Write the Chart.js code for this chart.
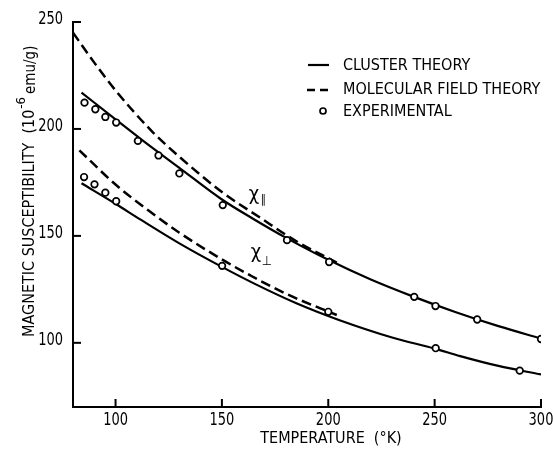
<!DOCTYPE html>
<html>
<head>
<meta charset="utf-8">
<script src="https://cdn.jsdelivr.net/npm/chart.js@4.4.0/dist/chart.umd.min.js"></script>
<style>
html, body { margin: 0; padding: 0; background: #fff; }
#wrap { width: 553px; height: 452px; }
</style>
</head>
<body>
<div id="wrap"><canvas id="chartCanvas" width="553" height="452"></canvas></div>
<script>
// cluster theory, parallel
const clusterParT = [84, 100, 111.6, 130, 150, 165, 180, 200, 220, 240, 260, 280, 300];
const clusterParChi = [217, 204.5, 195.5, 181.8, 167, 157.8, 149.2, 138.8, 129.6, 121.6, 114.3, 107.8, 102];

// molecular field theory, parallel
const mftParT = [80, 90, 100, 117, 130, 150, 168, 185, 204];
const mftParChi = [245, 231, 218, 199, 187, 170.5, 158.5, 147.5, 137.5];

// cluster theory, perpendicular
const clusterPerpT = [84, 100, 111.6, 130, 150, 165, 185, 205, 230, 250, 262, 280, 300];
const clusterPerpChi = [174.6, 165, 157.7, 146.5, 135.5, 127.8, 118.5, 110.7, 102.5, 97.3, 93.8, 89.2, 85.2];

// molecular field theory, perpendicular
const mftPerpT = [83, 100, 116, 130, 150, 163.4, 180, 204];
const mftPerpChi = [190, 174, 161.5, 151.5, 139, 131.5, 123, 113];

// experimental points
const expParT = [85.4, 90.5, 95.2, 100.3, 110.5, 120.2, 130, 150.4, 180.6, 200.4, 240.4, 250.4, 270, 300];
const expParChi = [212.3, 209.2, 205.6, 203, 194.4, 187.6, 179.2, 164.4, 148, 137.8, 121.5, 117.2, 110.9, 101.8];
const expPerpT = [85.2, 90.1, 95.2, 100.3, 150.1, 200, 250.5, 290];
const expPerpChi = [177.5, 174.1, 170.2, 166.2, 136, 114.5, 97.5, 87];

const xTicks = [100, 150, 200, 250, 300];
const yTicks = [100, 150, 200, 250];

const legendLabels = ["CLUSTER THEORY", "MOLECULAR FIELD THEORY", "EXPERIMENTAL"];

const FONT = "'Liberation Sans Narrow', 'DejaVu Sans Condensed', 'Liberation Sans', sans-serif";

function pts(xs, ys) {
    return xs.map((x, i) => ({ x: x, y: ys[i] }));
}

function lineSet(xs, ys, dashed) {
    return {
        type: "line",
        data: pts(xs, ys),
        borderColor: "#000",
        borderWidth: dashed ? 2.5 : 2.2,
        borderDash: dashed ? [10, 5] : [],
        pointRadius: 0,
        fill: false,
        cubicInterpolationMode: "monotone",
        order: 2
    };
}

function pointSet(xs, ys) {
    return {
        type: "scatter",
        data: pts(xs, ys),
        showLine: false,
        pointStyle: "circle",
        pointRadius: 3.3,
        pointBorderWidth: 1.7,
        pointBorderColor: "#000",
        pointBackgroundColor: "#fff",
        order: 1
    };
}

// condensed text: squeeze horizontally around (x, y)
function narrowText(ctx, text, x, y, sx) {
    ctx.save();
    ctx.translate(x, y);
    ctx.scale(sx, 1);
    ctx.fillText(text, 0, 0);
    ctx.restore();
}

const extras = {
    id: "extras",
    afterDraw(chart) {
        const ctx = chart.ctx;
        const xs = chart.scales.x;
        const ys = chart.scales.y;
        const area = chart.chartArea;

        ctx.save();
        ctx.strokeStyle = "#000";
        ctx.fillStyle = "#000";
        ctx.lineWidth = 2;

        // inward ticks
        xTicks.forEach(v => {
            const px = xs.getPixelForValue(v);
            ctx.beginPath();
            ctx.moveTo(px, area.bottom);
            ctx.lineTo(px, area.bottom - 8);
            ctx.stroke();
        });
        yTicks.forEach(v => {
            const py = ys.getPixelForValue(v);
            ctx.beginPath();
            ctx.moveTo(area.left, py);
            ctx.lineTo(area.left + 8, py);
            ctx.stroke();
        });

        // tick labels
        ctx.font = "17px " + FONT;
        ctx.textAlign = "center";
        ctx.textBaseline = "middle";
        xTicks.forEach(v => {
            narrowText(ctx, String(v), xs.getPixelForValue(v), 421, 0.85);
        });
        ctx.textAlign = "right";
        yTicks.forEach(v => {
            narrowText(ctx, String(v), 63, ys.getPixelForValue(v) - 2, 0.85);
        });

        // x title
        ctx.textAlign = "center";
        ctx.font = "16px " + FONT;
        ctx.fillText("TEMPERATURE  (\u00B0K)", 331, 439);

        // y title
        ctx.save();
        ctx.translate(30, 337);
        ctx.rotate(-Math.PI / 2);
        ctx.textAlign = "left";
        ctx.textBaseline = "middle";
        ctx.font = "16px " + FONT;
        const t1 = "MAGNETIC SUSCEPTIBILITY  (10";
        ctx.fillText(t1, 0, 0);
        let w = ctx.measureText(t1).width;
        ctx.font = "13px " + FONT;
        ctx.fillText("-6", w + 1, -8);
        w += ctx.measureText("-6").width + 4;
        ctx.font = "15px " + FONT;
        ctx.fillText("emu/g)", w, 1);
        ctx.restore();

        // legend
        ctx.textAlign = "left";
        ctx.textBaseline = "middle";
        ctx.font = "16px " + FONT;
        ctx.lineWidth = 2.2;
        ctx.beginPath();
        ctx.moveTo(308, 65);
        ctx.lineTo(329, 65);
        ctx.stroke();
        ctx.fillText(legendLabels[0], 343, 66);

        ctx.lineWidth = 2.5;
        ctx.setLineDash([8, 5]);
        ctx.beginPath();
        ctx.moveTo(307, 90);
        ctx.lineTo(329, 90);
        ctx.stroke();
        ctx.setLineDash([]);
        ctx.fillText(legendLabels[1], 343, 90);

        ctx.lineWidth = 1.7;
        ctx.beginPath();
        ctx.arc(323, 111, 3, 0, Math.PI * 2);
        ctx.stroke();
        ctx.fillText(legendLabels[2], 343, 112);

        // curve labels
        ctx.font = "20px " + FONT;
        ctx.textBaseline = "alphabetic";
        let lx = xs.getPixelForValue(162.6);
        let ly = ys.getPixelForValue(167);
        ctx.fillText("\u03C7", lx, ly);
        ctx.font = "12px " + FONT;
        ctx.fillText("\u2225", lx + 12, ly + 3);

        ctx.font = "20px " + FONT;
        lx = xs.getPixelForValue(163.6);
        ly = ys.getPixelForValue(139.5);
        ctx.fillText("\u03C7", lx, ly);
        ctx.font = "13px " + FONT;
        ctx.fillText("\u22A5", lx + 11, ly + 7);

        ctx.restore();
    }
};

const ctx = document.getElementById("chartCanvas").getContext("2d");

new Chart(ctx, {
    data: {
        datasets: [
            lineSet(clusterParT, clusterParChi, false),
            lineSet(mftParT, mftParChi, true),
            lineSet(clusterPerpT, clusterPerpChi, false),
            lineSet(mftPerpT, mftPerpChi, true),
            pointSet(expParT, expParChi),
            pointSet(expPerpT, expPerpChi)
        ]
    },
    options: {
        responsive: false,
        animation: false,
        layout: { padding: { top: 22, right: 12, left: 0, bottom: 0 } },
        plugins: {
            legend: { display: false },
            tooltip: { enabled: false }
        },
        scales: {
            x: {
                type: "linear",
                min: 80,
                max: 300,
                afterBuildTicks: s => { s.ticks = xTicks.map(v => ({ value: v })); },
                afterFit: s => { s.height = 45; s.paddingLeft = 0; s.paddingRight = 0; },
                grid: { display: false, drawTicks: false },
                border: { display: true, color: "#000", width: 2 },
                ticks: { display: false }
            },
            y: {
                type: "linear",
                min: 70,
                max: 250,
                afterBuildTicks: s => { s.ticks = yTicks.map(v => ({ value: v })); },
                afterFit: s => { s.width = 73; s.paddingTop = 0; s.paddingBottom = 0; },
                grid: { display: false, drawTicks: false },
                border: { display: true, color: "#000", width: 2 },
                ticks: { display: false }
            }
        }
    },
    plugins: [extras]
});
</script>
</body>
</html>
